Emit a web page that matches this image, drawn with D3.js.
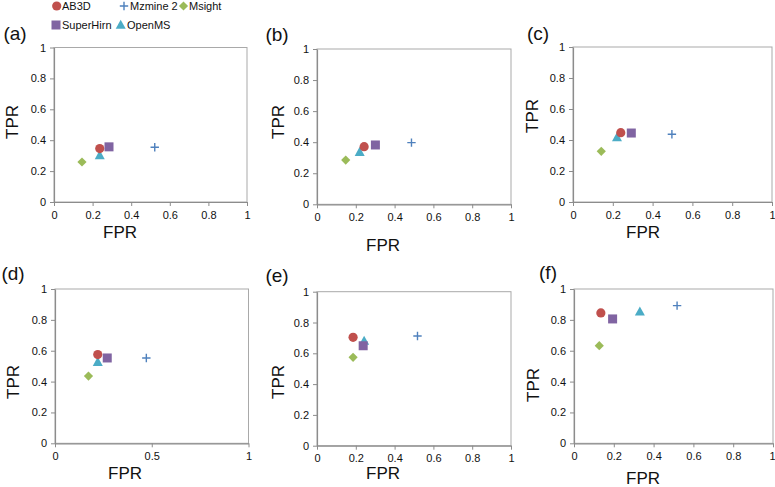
<!DOCTYPE html>
<html>
<head>
<meta charset="utf-8">
<script src="https://cdn.jsdelivr.net/npm/d3@7/dist/d3.min.js"></script>
<style>
  html, body { margin: 0; padding: 0; background: #fff; }
  svg { display: block; font-family: "Liberation Sans", Arial, Helvetica, sans-serif; }
</style>
</head>
<body>
<svg id="chart" width="775" height="487"></svg>
<script>
// ---------- DATA ----------
const panelLabels = ["(a)", "(b)", "(c)", "(d)", "(e)", "(f)"];
const seriesNames = ["AB3D", "Mzmine 2", "Msight", "SuperHirn", "OpenMS"];
const ab3dFPR      = [0.237, 0.243, 0.240, 0.221, 0.186, 0.135];
const ab3dTPR      = [0.346, 0.371, 0.447, 0.575, 0.704, 0.845];
const mzmineFPR    = [0.522, 0.487, 0.497, 0.472, 0.518, 0.518];
const mzmineTPR    = [0.354, 0.397, 0.437, 0.553, 0.712, 0.892];
const msightFPR    = [0.145, 0.148, 0.142, 0.173, 0.186, 0.127];
const msightTPR    = [0.259, 0.285, 0.327, 0.436, 0.574, 0.633];
const superhirnFPR = [0.285, 0.301, 0.293, 0.270, 0.238, 0.194];
const superhirnTPR = [0.357, 0.382, 0.445, 0.553, 0.649, 0.806];
const openmsFPR    = [0.237, 0.220, 0.221, 0.221, 0.243, 0.331];
const openmsTPR    = [0.302, 0.336, 0.416, 0.526, 0.680, 0.853];
const yTickValues  = [0, 0.2, 0.4, 0.6, 0.8, 1];
const xTickValues  = [0, 0.2, 0.4, 0.6, 0.8, 1];
const xTickValuesD = [0, 0.5, 1];
const xTitle = "FPR";
const yTitle = "TPR";

// ---------- STYLE / LAYOUT ----------
const colors = {
  "AB3D": "#C0504D", "Mzmine 2": "#4F81BD", "Msight": "#9BBB59",
  "SuperHirn": "#8064A2", "OpenMS": "#4BACC6"
};
const symbols = {
  "AB3D": "circle", "Mzmine 2": "plus", "Msight": "diamond",
  "SuperHirn": "square", "OpenMS": "triangle"
};
const seriesFPR = [ab3dFPR, mzmineFPR, msightFPR, superhirnFPR, openmsFPR];
const seriesTPR = [ab3dTPR, mzmineTPR, msightTPR, superhirnTPR, openmsTPR];

// plot boxes & title placements
const layout = [
  { x0: 54,  x1: 247,   y0: 47.5, y1: 202,   lab: [15, 33],  tpr: [12, 122],  fpr: [120, 232] },
  { x0: 317, x1: 511,   y0: 49,   y1: 204.3, lab: [277, 34], tpr: [278, 122], fpr: [383, 245] },
  { x0: 573, x1: 772,   y0: 47,   y1: 202,   lab: [538, 33], tpr: [532, 116], fpr: [643, 232] },
  { x0: 55,  x1: 248.5, y0: 289,  y1: 443.3, lab: [13, 273], tpr: [13, 382],  fpr: [125, 473] },
  { x0: 317, x1: 511,   y0: 291.7,y1: 445.7, lab: [277, 275],tpr: [278, 382], fpr: [383, 473] },
  { x0: 574, x1: 773,   y0: 289,  y1: 443.3, lab: [548, 272],tpr: [533, 385], fpr: [643, 478] }
];

const svg = d3.select("#chart");

function drawMarker(g, type, cx, cy, color) {
  if (type === "circle") {
    g.append("circle").attr("cx", cx).attr("cy", cy).attr("r", 4.6).attr("fill", color);
  } else if (type === "square") {
    g.append("rect").attr("x", cx - 4.5).attr("y", cy - 4.5).attr("width", 9).attr("height", 9).attr("fill", color);
  } else if (type === "diamond") {
    g.append("path").attr("d", `M${cx},${cy-4.6}L${cx+4.6},${cy}L${cx},${cy+4.6}L${cx-4.6},${cy}Z`).attr("fill", color);
  } else if (type === "triangle") {
    g.append("path").attr("d", `M${cx},${cy-5.3}L${cx+5},${cy+3.8}L${cx-5},${cy+3.8}Z`).attr("fill", color);
  } else if (type === "plus") {
    g.append("path").attr("d", `M${cx-4.2},${cy}H${cx+4.2}M${cx},${cy-4.2}V${cy+4.2}`)
      .attr("stroke", color).attr("stroke-width", 1.4).attr("fill", "none");
  }
}

panelLabels.forEach((label, i) => {
  const L = layout[i];
  const x = d3.scaleLinear().domain([0, 1]).range([L.x0, L.x1]);
  const y = d3.scaleLinear().domain([0, 1]).range([L.y1, L.y0]);
  const g = svg.append("g");

  // plot area frame
  g.append("rect").attr("x", L.x0).attr("y", L.y0)
    .attr("width", L.x1 - L.x0).attr("height", L.y1 - L.y0)
    .attr("fill", "none").attr("stroke", "#a9a9a9").attr("stroke-width", 1);

  const xa = g.append("g").attr("transform", `translate(0,${L.y1})`)
    .call(d3.axisBottom(x).tickValues(i === 3 ? xTickValuesD : xTickValues)
      .tickFormat(d => String(d)).tickSize(4).tickSizeOuter(0).tickPadding(5));
  const ya = g.append("g").attr("transform", `translate(${L.x0},0)`)
    .call(d3.axisLeft(y).tickValues(yTickValues)
      .tickFormat(d => String(d)).tickSize(4).tickSizeOuter(0).tickPadding(4));
  [xa, ya].forEach(a => {
    a.select(".domain").attr("stroke", "#8c8c8c").attr("stroke-width", 1.2);
    a.selectAll(".tick line").attr("stroke", "#8c8c8c");
    a.selectAll(".tick text").attr("fill", "#111").style("font-size", "11px")
      .style("font-family", '"Liberation Sans", Arial, sans-serif');
  });
  // keep the right-most x label inside the page
  xa.selectAll(".tick text").filter(d => d === 1 && L.x1 > 770)
    .attr("text-anchor", "end").attr("x", 775 - L.x1);

  // titles
  g.append("text").attr("x", L.fpr[0]).attr("y", L.fpr[1]).attr("dy", "0.36em")
    .attr("text-anchor", "middle").style("font-size", "17px").attr("fill", "#111").text(xTitle);
  g.append("text").attr("transform", `translate(${L.tpr[0]},${L.tpr[1]}) rotate(-90)`)
    .attr("dy", "0.36em").attr("text-anchor", "middle").style("font-size", "17px").attr("fill", "#111").text(yTitle);
  g.append("text").attr("x", L.lab[0]).attr("y", L.lab[1]).attr("dy", "0.36em")
    .attr("text-anchor", "middle").style("font-size", "19px").attr("fill", "#111").text(label);

  // points (draw in order: Msight, OpenMS, AB3D, SuperHirn, Mzmine)
  const order = [2, 4, 0, 3, 1];
  order.forEach(s => {
    const name = seriesNames[s];
    drawMarker(g, symbols[name], x(seriesFPR[s][i]), y(seriesTPR[s][i]), colors[name]);
  });
});

// legend
const legendItems = [
  { name: "AB3D",      mx: 56.7, tx: 62,  y: 6 },
  { name: "Mzmine 2",  mx: 124,  tx: 130, y: 6 },
  { name: "Msight",    mx: 183.5,tx: 189, y: 6 },
  { name: "SuperHirn", mx: 56,   tx: 62,  y: 25 },
  { name: "OpenMS",    mx: 120.7,tx: 127, y: 25 }
];
const lg = svg.append("g");
legendItems.forEach(it => {
  drawMarker(lg, symbols[it.name], it.mx, it.y, colors[it.name]);
  lg.append("text").attr("x", it.tx).attr("y", it.y).attr("dy", "0.36em")
    .style("font-size", "11px").attr("fill", "#111").text(it.name);
});
</script>
</body>
</html>
